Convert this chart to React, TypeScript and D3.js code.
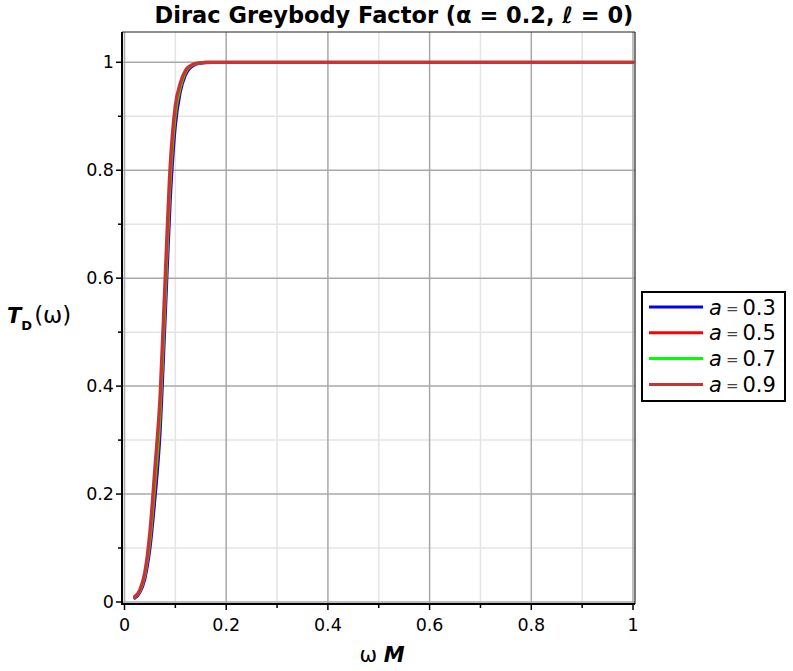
import { useEffect, useRef } from "react";
import * as d3 from "d3";

// omega*M sample points shared by every curve
const omega = [0.02, 0.03, 0.04, 0.05, 0.06, 0.07, 0.08, 0.09, 0.10, 0.11, 0.12, 0.13, 0.14, 0.15, 0.16, 0.18, 0.2, 0.3, 0.4, 0.5, 0.6, 0.7, 0.8, 0.9, 1.0];

const tA03 = [0.007, 0.017, 0.042, 0.097, 0.19, 0.31, 0.52, 0.74, 0.88, 0.945, 0.976, 0.99, 0.996, 0.998, 0.999, 1, 1, 1, 1, 1, 1, 1, 1, 1, 1];
const tA05 = [0.008, 0.019, 0.047, 0.108, 0.21, 0.335, 0.55, 0.77, 0.897, 0.952, 0.98, 0.992, 0.997, 0.999, 1, 1, 1, 1, 1, 1, 1, 1, 1, 1, 1];
const tA07 = [0.009, 0.02, 0.05, 0.115, 0.225, 0.35, 0.565, 0.785, 0.905, 0.955, 0.982, 0.993, 0.997, 0.999, 1, 1, 1, 1, 1, 1, 1, 1, 1, 1, 1];
const tA09 = [0.01, 0.022, 0.055, 0.13, 0.25, 0.38, 0.60, 0.81, 0.92, 0.962, 0.985, 0.994, 0.998, 0.999, 1, 1, 1, 1, 1, 1, 1, 1, 1, 1, 1];

const seriesLabels = ["0.3", "0.5", "0.7", "0.9"];
const seriesColors = ["#0000ff", "#ff0000", "#00ff00", "#c83434"];

const majorTicks = [0, 0.2, 0.4, 0.6, 0.8, 1];
const minorTicks = [0.1, 0.3, 0.5, 0.7, 0.9];
const tickLabels = ["0", "0.2", "0.4", "0.6", "0.8", "1"];

const W = 793;
const H = 671;

export default function App() {
  const ref = useRef<SVGSVGElement>(null);

  useEffect(() => {
    const svg = d3.select(ref.current);
    svg.selectAll("*").remove();

    const x = d3.scaleLinear().domain([0, 1]).range([124.5, 633]);
    const y = d3.scaleLinear().domain([0, 1]).range([602, 62.3]);
    const box = { left: 122, right: 635, top: 32, bottom: 604 };
    const font = "DejaVu Sans, sans-serif";

    const g = svg.append("g");

    // grid, minor first then major
    minorTicks.forEach((t) => {
      g.append("line").attr("x1", x(t)).attr("x2", x(t)).attr("y1", box.top).attr("y2", box.bottom)
        .attr("stroke", "#e4e4e4").attr("stroke-width", 1.5);
      g.append("line").attr("y1", y(t)).attr("y2", y(t)).attr("x1", box.left).attr("x2", box.right)
        .attr("stroke", "#e4e4e4").attr("stroke-width", 1.5);
    });
    majorTicks.forEach((t) => {
      g.append("line").attr("x1", x(t)).attr("x2", x(t)).attr("y1", box.top).attr("y2", box.bottom)
        .attr("stroke", "#a8a8a8").attr("stroke-width", 1.5);
      g.append("line").attr("y1", y(t)).attr("y2", y(t)).attr("x1", box.left).attr("x2", box.right)
        .attr("stroke", "#a8a8a8").attr("stroke-width", 1.5);
    });

    // top / right frame
    g.append("line").attr("x1", box.left).attr("x2", box.right).attr("y1", box.top).attr("y2", box.top)
      .attr("stroke", "#222").attr("stroke-width", 1.2);
    g.append("line").attr("x1", box.right).attr("x2", box.right).attr("y1", box.top).attr("y2", box.bottom)
      .attr("stroke", "#222").attr("stroke-width", 1.2);

    // curves
    const allSeries = [tA03, tA05, tA07, tA09];
    const line = d3.line<number>()
      .x((_, i) => x(omega[i]))
      .y((d) => y(d))
      .curve(d3.curveMonotoneX);
    allSeries.forEach((s, i) => {
      g.append("path").attr("d", line(s)).attr("fill", "none")
        .attr("stroke", seriesColors[i]).attr("stroke-width", i === 3 ? 3.4 : 2.8)
        .attr("stroke-linejoin", "round").attr("stroke-linecap", "round");
    });

    // axes
    g.append("line").attr("x1", box.left).attr("x2", box.left).attr("y1", box.top).attr("y2", box.bottom + 1)
      .attr("stroke", "#000").attr("stroke-width", 2);
    g.append("line").attr("x1", box.left - 1).attr("x2", box.right).attr("y1", box.bottom).attr("y2", box.bottom)
      .attr("stroke", "#000").attr("stroke-width", 2);

    majorTicks.forEach((t, i) => {
      g.append("line").attr("x1", x(t)).attr("x2", x(t)).attr("y1", box.bottom).attr("y2", box.bottom + 6)
        .attr("stroke", "#000").attr("stroke-width", 1.5);
      g.append("line").attr("x1", box.left - 6).attr("x2", box.left).attr("y1", y(t)).attr("y2", y(t))
        .attr("stroke", "#000").attr("stroke-width", 1.5);
      g.append("text").attr("x", x(t)).attr("y", 631).attr("text-anchor", "middle")
        .attr("font-family", font).attr("font-size", 17.5).text(tickLabels[i]);
      g.append("text").attr("x", 114).attr("y", y(t) + 6).attr("text-anchor", "end")
        .attr("font-family", font).attr("font-size", 17.5).text(tickLabels[i]);
    });
    minorTicks.forEach((t) => {
      g.append("line").attr("x1", x(t)).attr("x2", x(t)).attr("y1", box.bottom).attr("y2", box.bottom + 4)
        .attr("stroke", "#000").attr("stroke-width", 1.5);
      g.append("line").attr("x1", box.left - 4).attr("x2", box.left).attr("y1", y(t)).attr("y2", y(t))
        .attr("stroke", "#000").attr("stroke-width", 1.5);
    });

    // title
    svg.append("text").attr("x", 394).attr("y", 23).attr("text-anchor", "middle")
      .attr("font-family", font).attr("font-weight", "bold").attr("font-size", 22.5)
      .text("Dirac Greybody Factor (\u03b1 = 0.2, \u2113 = 0)");

    // x label
    const xl = svg.append("text").attr("x", 382).attr("y", 662).attr("text-anchor", "middle")
      .attr("font-family", font).attr("font-size", 21);
    xl.append("tspan").text("\u03c9 ");
    xl.append("tspan").attr("font-weight", "bold").attr("font-style", "italic").text("M");

    // y label
    const yl = svg.append("text").attr("x", 7).attr("y", 323).attr("font-family", font).attr("font-size", 21);
    yl.append("tspan").attr("font-weight", "bold").attr("font-style", "italic").text("T");
    yl.append("tspan").attr("font-weight", "bold").attr("font-size", 13).attr("dy", 7).text("D");
    yl.append("tspan").attr("dy", -7).attr("dx", 2).attr("font-size", 23).text("(\u03c9)");

    // legend
    const lg = svg.append("g");
    lg.append("rect").attr("x", 642).attr("y", 292).attr("width", 143).attr("height", 109)
      .attr("fill", "#fff").attr("stroke", "#000").attr("stroke-width", 2);
    seriesLabels.forEach((lab, i) => {
      const ly = 307 + i * 25.8;
      lg.append("line").attr("x1", 649).attr("x2", 703).attr("y1", ly).attr("y2", ly)
        .attr("stroke", seriesColors[i]).attr("stroke-width", 3);
      const t = lg.append("text").attr("x", 709).attr("y", ly + 7.5).attr("font-family", font).attr("font-size", 21);
      t.append("tspan").attr("font-style", "italic").text("a");
      t.append("tspan").attr("font-size", 15).attr("fill", "#444").attr("dx", 4).attr("dy", -1).text("=");
      t.append("tspan").attr("dx", 4).attr("dy", 1).text(lab);
    });
  }, []);

  return (
    <svg ref={ref} width={W} height={H} style={{ position: "absolute", left: 0, top: 0, background: "#fff" }} />
  );
}
